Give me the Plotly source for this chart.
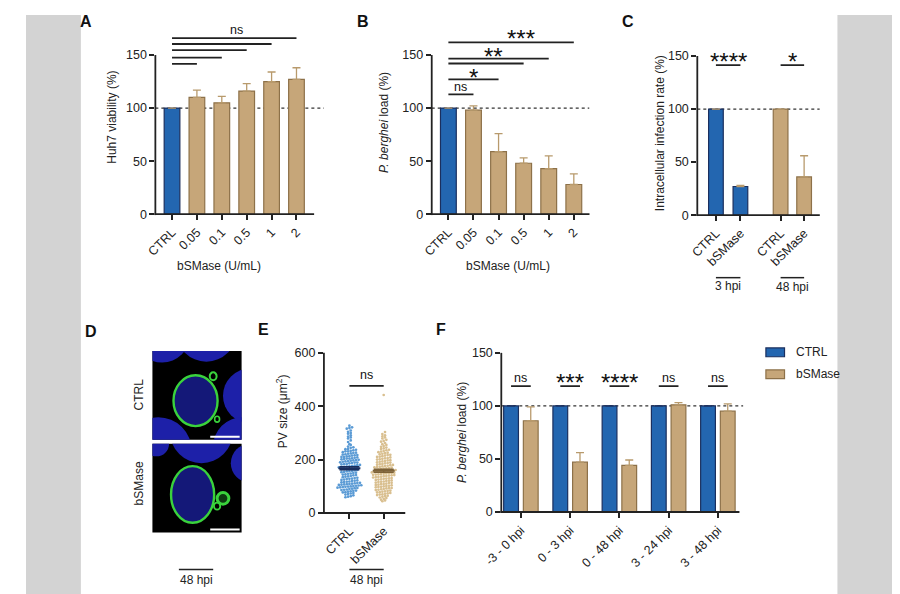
import numpy as np
import plotly.graph_objects as go

W, H = 900, 594
OFF = 8  # the page body margin shifts the figure by 8px
BLUE = '#2366b0'
BLUE_EDGE = '#1b2f5e'
TAN = '#c6a679'
TAN_EDGE = '#8d7149'
TAN_ERR = '#b89a6c'
INK = '#222222'
FONT = 'Liberation Sans, Arial, sans-serif'

# ---- data ----
a_labels = ['CTRL', '0.05', '0.1', '0.5', '1', '2']
a_viability = [100, 110, 105, 116, 125, 127]
a_viability_sd = [0, 7, 6, 7, 9, 11]
a_comp_to = [1, 2, 3, 4, 5]
a_comp_y = [141.7, 147.5, 154.6, 160.4, 166]

b_labels = ['CTRL', '0.05', '0.1', '0.5', '1', '2']
b_load = [100, 98, 59, 48, 43, 28]
b_load_sd = [0, 4, 17, 5, 12, 10]
b_comp_to = [1, 2, 3, 4, 5]
b_comp_y = [113, 127, 142, 146.6, 162]
b_sig_text = ['ns', '*', '**', '***']
b_sig_x = [0.5, 1.0, 1.8, 2.9]
b_sig_y = [120, 134, 153, 170.5]

c_labels = ['CTRL', 'bSMase', 'CTRL', 'bSMase']
c_rate = [100, 27, 100, 36]
c_rate_sd = [0, 1, 0, 20]
c_groups = ['3 hpi', '48 hpi']
c_sig_text = ['****', '*']

ctrl_pv = [
    327, 321, 316, 318, 309, 304, 300, 297, 291, 286, 283, 279, 272, 266, 258, 255,
    249, 246, 244, 240, 239, 237, 235, 233, 231, 231, 228, 226, 225, 223, 222,
    220, 219, 217, 216, 215, 213, 212, 210, 210, 208, 207, 205, 204, 204, 202,
    201, 199, 198, 197, 196, 194, 193, 192, 190, 189, 189, 187, 186, 184, 183,
    182, 180, 179, 178, 176, 175, 174, 172, 171, 171, 169, 168, 167, 165, 165,
    164, 163, 161, 160, 158, 157, 156, 154, 153, 151, 150, 148, 147, 145, 144,
    142, 141, 139, 137, 136, 134, 132, 131, 129, 128, 127, 125, 124, 122, 121,
    120, 118, 117, 116, 115, 113, 112, 111, 110, 109, 108, 107, 106, 105, 104,
    103, 102, 101, 100, 99, 98, 97, 96, 95, 94, 93, 91, 90, 88, 87,
    86, 84, 83, 81, 80, 78, 77, 75, 73, 71, 69, 66, 63, 61, 59,
]
bsm_pv = [
    442, 303, 296, 291, 287, 283, 279, 274, 270, 267, 262, 258, 255, 251, 248,
    245, 242, 240, 237, 235, 232, 230, 228, 226, 224, 222, 220, 218, 217, 215,
    213, 211, 210, 208, 206, 205, 203, 201, 200, 198, 197, 195, 193, 192, 190,
    189, 187, 186, 184, 183, 181, 180, 179, 177, 176, 175, 173, 172, 171, 170,
    168, 167, 166, 165, 163, 162, 161, 160, 159, 158, 157, 156, 155, 154, 153,
    152, 151, 150, 149, 148, 147, 146, 145, 144, 143, 142, 141, 140, 139, 138,
    136, 135, 134, 133, 131, 130, 129, 128, 126, 125, 124, 122, 121, 120, 118,
    117, 116, 114, 113, 112, 110, 109, 108, 106, 105, 104, 102, 101, 100, 98,
    97, 96, 94, 93, 92, 90, 89, 87, 86, 84, 83, 81, 80, 78, 77,
    75, 74, 72, 70, 69, 67, 65, 63, 61, 58, 56, 53, 50, 47, 44,
]
e_labels = ['CTRL', 'bSMase']

f_labels = ['-3 - 0 hpi', '0 - 3 hpi', '0 - 48 hpi', '3 - 24 hpi', '3 - 48 hpi']
f_ctrl = [100, 100, 100, 100, 100]
f_ctrl_sd = [0, 0, 0, 0, 0]
f_bsmase = [86, 47, 44, 101, 95]
f_bsmase_sd = [13, 9, 5, 2, 7]
f_sig_text = ['ns', '***', '****', 'ns', 'ns']


# ---- layout helpers (page pixel boxes of each panel) ----
def fx(x):
    return (x - OFF) / W


def fy(y):
    return 1 - (y - OFF) / H


panels = {
    'A': dict(n=1, l=140, r=312, t=16, b=212, x0=157, dx=25.4, ys=163 / 150, xend=302, ytop=150),
    'B': dict(n=2, l=422, r=583, t=16, b=212, x0=439, dx=25.6, ys=163 / 150, xend=583, ytop=150),
    'C': dict(n=3, l=693, r=818, t=40, b=213, x0=712, dx=25, ys=163 / 150, xend=818, ytop=150),
    'E': dict(n=4, l=312, r=395, t=354, b=518, x0=338, dx=35, ys=164 / 600, xend=395, ytop=600),
    'F': dict(n=5, l=493, r=740, t=354, b=517, x0=513, dx=50.25, ys=163 / 150, xend=736, ytop=150),
}

fig = go.Figure()
shapes = []
annos = []

tick_font = dict(family=FONT, size=12.5, color=INK)


def setup(key, tickvals, ticktext, yticks):
    p = panels[key]
    s = '' if p['n'] == 1 else str(p['n'])
    xr = [(p['l'] - p['x0']) / p['dx'], (p['r'] - p['x0']) / p['dx']]
    yr = [0, (p['b'] - p['t']) / p['ys']]
    fig.update_layout(**{
        'xaxis' + s: dict(domain=[fx(p['l']), fx(p['r'])], range=xr, anchor='y' + s,
                          showline=False, showgrid=False, zeroline=False,
                          tickvals=tickvals, ticktext=ticktext, tickangle=-45,
                          ticks='outside', ticklen=5, tickwidth=1.6, tickcolor=INK,
                          tickfont=tick_font, fixedrange=True),
        'yaxis' + s: dict(domain=[fy(p['b']), fy(p['t'])], range=yr, anchor='x' + s,
                          showline=False, showgrid=False, zeroline=False,
                          tickvals=yticks, ticks='outside', ticklen=5, tickwidth=1.6,
                          tickcolor=INK, tickfont=tick_font, fixedrange=True),
    })
    # axis lines only up to the last tick, like the original
    shapes.append(dict(type='line', xref='paper', yref='paper',
                       x0=fx(p['l']), x1=fx(p['l']),
                       y0=fy(p['b'] + 0.9), y1=fy(p['b'] - p['ytop'] * p['ys']),
                       line=dict(color=INK, width=1.8)))
    shapes.append(dict(type='line', xref='paper', yref='paper',
                       x0=fx(p['l'] - 0.9), x1=fx(p['xend']), y0=fy(p['b']), y1=fy(p['b']),
                       line=dict(color=INK, width=1.8)))
    return 'x' + s, 'y' + s, xr


def px_of(key, xv):
    p = panels[key]
    return p['x0'] + xv * p['dx']


def dotted(xa, ya, x0, x1):
    shapes.append(dict(type='line', xref=xa, yref=ya, x0=x0, x1=x1, y0=100, y1=100,
                       layer='below', line=dict(color='#333333', width=1.2, dash='dot')))


def hline(xa, ya, x0, x1, y):
    shapes.append(dict(type='line', xref=xa, yref=ya, x0=x0, x1=x1, y0=y, y1=y,
                       line=dict(color=INK, width=1.8)))


def sig(xa, ya, x, y, text):
    star = '*' in text
    annos.append(dict(xref=xa, yref=ya, x=x, y=y, text=text, showarrow=False,
                      xanchor='center', yanchor='middle', yshift=-5 if star else 0,
                      font=dict(family=FONT, size=24 if star else 12.5, color='#111111')))


def text(x, y, t, size=12, angle=0, anchor='center'):
    annos.append(dict(xref='paper', yref='paper', x=fx(x), y=fy(y), text=t, showarrow=False,
                      textangle=angle, xanchor=anchor, yanchor='middle',
                      font=dict(family=FONT, size=size, color=INK)))


# ---- A ----
pos_a = list(range(len(a_labels)))
xa, ya, xr = setup('A', pos_a, a_labels, [0, 50, 100, 150])
fig.add_trace(go.Bar(x=pos_a, y=a_viability, width=0.63, xaxis=xa, yaxis=ya,
                     marker=dict(color=[BLUE] + [TAN] * 5,
                                 line=dict(color=[BLUE_EDGE] + [TAN_EDGE] * 5, width=1.2)),
                     error_y=dict(type='data', symmetric=False, array=a_viability_sd,
                                  arrayminus=[0] * 6, color=TAN_ERR, thickness=1.3, width=4),
                     showlegend=False))
dotted(xa, ya, xr[0], xr[1])
for to, y in zip(a_comp_to, a_comp_y):
    hline(xa, ya, 0, to, y)
sig(xa, ya, 2.6, 174, 'ns')
text(95, 113, 'Huh7 viability (%)', angle=-90)
text(205, 265, 'bSMase (U/mL)')

# ---- B ----
pos_b = list(range(len(b_labels)))
xa, ya, xr = setup('B', pos_b, b_labels, [0, 50, 100, 150])
fig.add_trace(go.Bar(x=pos_b, y=b_load, width=0.63, xaxis=xa, yaxis=ya,
                     marker=dict(color=[BLUE] + [TAN] * 5,
                                 line=dict(color=[BLUE_EDGE] + [TAN_EDGE] * 5, width=1.2)),
                     error_y=dict(type='data', symmetric=False, array=b_load_sd,
                                  arrayminus=[0] * 6, color=TAN_ERR, thickness=1.3, width=4),
                     showlegend=False))
dotted(xa, ya, xr[0], xr[1])
for to, y in zip(b_comp_to, b_comp_y):
    hline(xa, ya, 0, to, y)
for t, x, y in zip(b_sig_text, b_sig_x, b_sig_y):
    sig(xa, ya, x, y, t)
text(374, 118, '<i>P. berghei</i> load (%)', angle=-90)
text(500, 265, 'bSMase (U/mL)')

# ---- C ----
pos_c = [0, 1, 2.64, 3.6]
xa, ya, xr = setup('C', pos_c, c_labels, [0, 50, 100, 150])
fig.add_trace(go.Bar(x=pos_c, y=c_rate, width=0.6, xaxis=xa, yaxis=ya,
                     marker=dict(color=[BLUE, BLUE, TAN, TAN],
                                 line=dict(color=[BLUE_EDGE, BLUE_EDGE, TAN_EDGE, TAN_EDGE], width=1.2)),
                     error_y=dict(type='data', symmetric=False, array=c_rate_sd,
                                  arrayminus=[0] * 4, color=TAN_ERR, thickness=1.3, width=4),
                     showlegend=False))
dotted(xa, ya, xr[0], xr[1])
for g in range(2):
    x0, x1 = pos_c[2 * g], pos_c[2 * g + 1]
    hline(xa, ya, x0, x1, 141.4)
    sig(xa, ya, (x0 + x1) / 2, 150, c_sig_text[g])
    shapes.append(dict(type='line', xref='paper', yref='paper',
                       x0=fx(px_of('C', x0)), x1=fx(px_of('C', x1)), y0=fy(277), y1=fy(277),
                       line=dict(color=INK, width=1.5)))
    text((px_of('C', x0) + px_of('C', x1)) / 2, 286 + g, c_groups[g])
text(655, 129, 'Intracellular infection rate (%)', angle=-90)

# ---- E ----
pos_e = [0, 1]
xa, ya, xr = setup('E', pos_e, e_labels, [0, 200, 400, 600])


def swarm(vals, center, row_h, step):
    v = np.asarray(vals, float)
    xs = np.zeros(len(v))
    rows = np.floor(v / row_h).astype(int)
    for r in np.unique(rows):
        idx = np.where(rows == r)[0]
        idx = idx[np.argsort(v[idx])]
        k = len(idx)
        xs[idx] = center + (np.arange(k) - (k - 1) / 2) * step
    return xs


for c, vals, dot, dark in [(0, ctrl_pv, '#5b9bd5', '#1b2f5e'), (1, bsm_pv, '#d9bf8f', '#7d6238')]:
    fig.add_trace(go.Scatter(x=swarm(vals, c, 9.5, 0.077), y=vals, mode='markers',
                             xaxis=xa, yaxis=ya, showlegend=False,
                             marker=dict(size=2.7, color=dot, line=dict(width=0))))
    m = float(np.mean(vals))
    sem = float(np.std(vals, ddof=1) / np.sqrt(len(vals)))
    hline(xa, ya, c - 0.32, c + 0.32, m)
    shapes[-1]['line'] = dict(color=dark, width=1.8)
    fig.add_trace(go.Scatter(x=[c], y=[m], mode='markers', xaxis=xa, yaxis=ya, showlegend=False,
                             marker=dict(size=1, color='rgba(0,0,0,0)'),
                             error_y=dict(type='data', array=[sem], color=dark, thickness=1.5, width=10)))
hline(xa, ya, 0, 1, 476)
sig(xa, ya, 0.5, 516, 'ns')
shapes.append(dict(type='line', xref='paper', yref='paper',
                   x0=fx(px_of('E', 0)), x1=fx(px_of('E', 1)), y0=fy(576), y1=fy(576),
                   line=dict(color=INK, width=1.5)))
text((px_of('E', 0) + px_of('E', 1)) / 2, 587, '48 hpi')
text(270, 414, 'PV size (μm<sup>2</sup>)', angle=-90)

# ---- F ----
pos_f = list(range(len(f_labels)))
xa, ya, xr = setup('F', pos_f, f_labels, [0, 50, 100, 150])
fig.add_trace(go.Bar(x=[p - 0.2 for p in pos_f], y=f_ctrl, width=0.3, xaxis=xa, yaxis=ya,
                     name='CTRL', showlegend=False,
                     marker=dict(color=BLUE, line=dict(color=BLUE_EDGE, width=1.2)),
                     error_y=dict(type='data', symmetric=False, array=f_ctrl_sd,
                                  arrayminus=[0] * 5, color=BLUE_EDGE, thickness=1.3, width=4)))
fig.add_trace(go.Bar(x=[p + 0.2 for p in pos_f], y=f_bsmase, width=0.3, xaxis=xa, yaxis=ya,
                     name='bSMase', showlegend=False,
                     marker=dict(color=TAN, line=dict(color=TAN_EDGE, width=1.2)),
                     error_y=dict(type='data', symmetric=False, array=f_bsmase_sd,
                                  arrayminus=[0] * 5, color=TAN_ERR, thickness=1.3, width=4)))
dotted(xa, ya, xr[0], xr[1])
for p, t in zip(pos_f, f_sig_text):
    hline(xa, ya, p - 0.2, p + 0.2, 118.7)
    sig(xa, ya, p, 127 if '*' in t else 126, t)
text(453, 436, '<i>P. berghei</i> load (%)', angle=-90)

# legend drawn by hand, GraphPad style
for i, (lab, col, edge) in enumerate([('CTRL', BLUE, BLUE_EDGE), ('bSMase', TAN, TAN_EDGE)]):
    yc = 353.5 + i * 22.5
    shapes.append(dict(type='rect', xref='paper', yref='paper', x0=fx(763), x1=fx(782),
                       y0=fy(yc + 4.5), y1=fy(yc - 4.5), fillcolor=col, line=dict(color=edge, width=1.2)))
    text(792, yc, lab, anchor='left')

# ---- D : confocal images sketched with shapes ----
img_boxes = [(6, 352, 443), (7, 447, 538)]
for n, t, b in img_boxes:
    fig.update_layout(**{
        'xaxis%d' % n: dict(domain=[fx(137), fx(228)], range=[0, 91], visible=False,
                            anchor='y%d' % n, fixedrange=True),
        'yaxis%d' % n: dict(domain=[fy(b), fy(t)], range=[91, 0], visible=False,
                            anchor='x%d' % n, fixedrange=True),
    })
    fig.add_trace(go.Scatter(x=[None], y=[None], xaxis='x%d' % n, yaxis='y%d' % n,
                             showlegend=False, hoverinfo='skip'))


def blob(n, cx, cy, rx, ry, fill, line=None, lw=0):
    shapes.append(dict(type='circle', xref='x%d' % n, yref='y%d' % n,
                       x0=cx - rx, x1=cx + rx, y0=cy - ry, y1=cy + ry,
                       fillcolor=fill, line=dict(color=line or fill, width=lw)))


NUC = '#1d20a8'
GREEN = '#3ad23c'
for n in (6, 7):
    shapes.append(dict(type='rect', xref='x%d' % n, yref='y%d' % n, x0=-1, x1=92, y0=-1, y1=92,
                       fillcolor='black', line=dict(width=0)))
# top image (CTRL)
blob(6, 10, -16, 28, 28, NUC)
blob(6, 55, -20, 31, 31, NUC)
blob(6, 100, 46, 28, 28, NUC)
blob(6, 6, 102, 34, 34, NUC)
blob(6, 92, 98, 30, 30, NUC)
blob(6, 44, 51, 22.5, 26, '#141878', GREEN, 2.4)
blob(6, 62, 26, 3.5, 4, 'rgba(0,0,0,0)', GREEN, 2)
blob(6, 66, 70, 2.5, 3, 'rgba(0,0,0,0)', GREEN, 1.6)
# bottom image (bSMase)
blob(7, 50, -12, 32, 32, NUC)
blob(7, 4, 0, 13, 13, NUC)
blob(7, 100, 20, 20, 20, NUC)
blob(7, 41, 52, 22, 29, '#141878', GREEN, 2.4)
blob(7, 72, 56, 6, 6, '#0d3a10', GREEN, 3)
blob(7, 66, 64, 3.2, 3.6, 'rgba(0,0,0,0)', GREEN, 1.8)
for n in (6, 7):
    shapes.append(dict(type='line', xref='x%d' % n, yref='y%d' % n, x0=59, x1=89, y0=88, y1=88,
                       line=dict(color='white', width=2)))
text(123, 397, 'CTRL', angle=-90)
text(123, 488, 'bSMase', angle=-90)
shapes.append(dict(type='line', xref='paper', yref='paper', x0=fx(164), x1=fx(199),
                   y0=fy(576), y1=fy(576), line=dict(color=INK, width=1.5)))
text(181.5, 587, '48 hpi')

# panel letters (top row kept just inside the page)
for lab, x, y in [('A', 69, 15), ('B', 352, 15), ('C', 622, 15),
                  ('D', 74, 332), ('E', 250, 330), ('F', 431, 330)]:
    annos.append(dict(xref='paper', yref='paper', x=fx(x), y=fy(y), text='<b>%s</b>' % lab,
                      showarrow=False, xanchor='center', yanchor='middle',
                      font=dict(family=FONT, size=16, color='#111111')))

# grey page margins
shapes.insert(0, dict(type='rect', xref='paper', yref='paper', x0=0, x1=fx(64), y0=0, y1=1,
                      fillcolor='#d3d3d3', line=dict(width=0), layer='below'))
shapes.insert(0, dict(type='rect', xref='paper', yref='paper', x0=fx(836), x1=1, y0=0, y1=1,
                      fillcolor='#d3d3d3', line=dict(width=0), layer='below'))

fig.update_layout(width=W, height=H, margin=dict(l=0, r=0, t=0, b=0),
                  paper_bgcolor='white', plot_bgcolor='rgba(0,0,0,0)',
                  barmode='overlay', showlegend=False,
                  font=dict(family=FONT, size=12, color=INK),
                  shapes=shapes, annotations=annos)

fig.write_html("out.html")
